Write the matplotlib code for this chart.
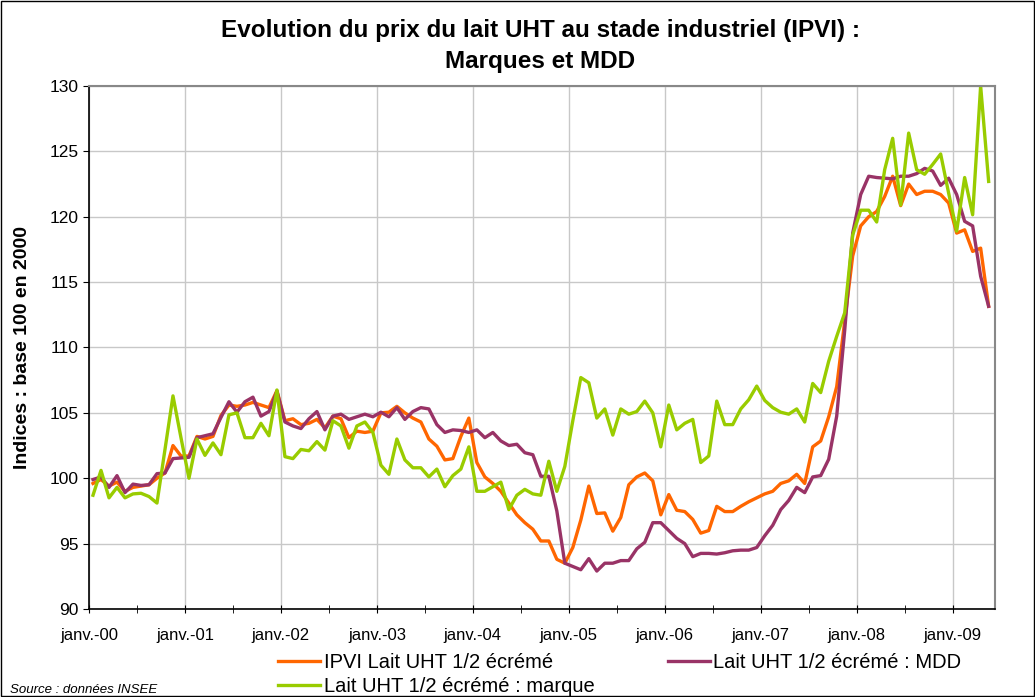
import matplotlib.pyplot as plt
import numpy as np

plt.rcParams['font.family'] = ['Liberation Sans', 'DejaVu Sans']

# Monthly indices, janv. 2000 -> mai 2009 (base 100 en 2000)
ipvi = [
    99.6, 99.9, 99.4, 99.7, 99.0, 99.3, 99.4, 99.5, 100.0, 100.4, 102.5, 101.7,
    101.7, 103.2, 103.0, 103.2, 104.8, 105.6, 105.5, 105.6, 105.8, 105.6, 105.4, 106.7,
    104.4, 104.55, 104.1, 104.2, 104.5, 103.85, 104.75, 104.55, 103.1, 103.6, 103.5, 103.6,
    105.0, 105.05, 105.5, 105.0, 104.6, 104.3, 103.0, 102.45, 101.4, 101.5, 103.2, 104.6,
    101.2, 100.1, 99.6, 99.0, 98.1, 97.2, 96.6, 96.1, 95.2, 95.2, 93.8, 93.5,
    94.7, 96.8, 99.4, 97.3, 97.35, 95.95, 97.0, 99.5, 100.1, 100.4, 99.8, 97.2,
    98.75, 97.55, 97.45, 96.85, 95.8, 96.0, 97.85, 97.45, 97.45, 97.85, 98.2, 98.5,
    98.8, 99.0, 99.6, 99.8, 100.3, 99.6, 102.4, 102.85, 104.7, 107.0, 112.0, 117.0,
    119.3, 120.0, 120.4, 121.55, 123.1, 120.85, 122.5, 121.7, 121.95, 121.95, 121.7, 121.05,
    118.75, 119.0, 117.35, 117.6, 113.15,
]
mdd = [
    99.9, 100.1, 99.3, 100.2, 98.9, 99.55, 99.45, 99.5, 100.35, 100.4, 101.5, 101.55,
    101.6, 103.1, 103.25, 103.4, 104.65, 105.85, 105.05, 105.85, 106.2, 104.75, 105.1, 106.65,
    104.3, 104.0, 103.8, 104.55, 105.1, 103.7, 104.75, 104.9, 104.5, 104.7, 104.9, 104.7,
    105.05, 104.7, 105.4, 104.5, 105.1, 105.4, 105.3, 104.1, 103.5, 103.7, 103.65, 103.5,
    103.7, 103.1, 103.5, 102.85, 102.5, 102.6, 101.95, 101.8, 100.15, 100.15, 97.5, 93.5,
    93.25, 93.0, 93.85, 92.9, 93.5, 93.5, 93.7, 93.7, 94.6, 95.1, 96.6, 96.6,
    96.0, 95.4, 95.0, 94.0, 94.25, 94.25, 94.2, 94.3, 94.45, 94.5, 94.5, 94.7,
    95.6, 96.4, 97.6, 98.3, 99.3, 98.9, 100.1, 100.2, 101.45, 104.75, 111.3, 118.75,
    121.7, 123.1, 123.0, 122.95, 122.9, 123.1, 123.1, 123.3, 123.7, 123.5, 122.4, 122.95,
    121.7, 119.65, 119.3, 115.45, 113.15,
]
marque = [
    98.7, 100.6, 98.5, 99.3, 98.5, 98.8, 98.85, 98.6, 98.1, 102.2, 106.3, 103.1,
    100.0, 103.0, 101.75, 102.7, 101.8, 104.85, 105.0, 103.1, 103.1, 104.2, 103.25, 106.75,
    101.65, 101.5, 102.2, 102.1, 102.8, 102.15, 104.4, 104.0, 102.3, 104.0, 104.3, 103.5,
    101.0, 100.3, 103.0, 101.4, 100.8, 100.8, 100.1, 100.7, 99.35, 100.2, 100.7, 102.4,
    99.0, 99.0, 99.35, 99.7, 97.6, 98.7, 99.15, 98.8, 98.7, 101.3, 99.0, 100.9,
    104.4, 107.7, 107.3, 104.6, 105.3, 103.3, 105.3, 104.9, 105.1, 105.9, 105.0, 102.4,
    105.6, 103.7, 104.2, 104.5, 101.2, 101.7, 105.9, 104.1, 104.1, 105.3, 106.0, 107.05,
    105.95, 105.4, 105.05, 104.9, 105.3, 104.3, 107.25, 106.55, 108.95, 110.85, 112.65, 118.6,
    120.5, 120.5, 119.6, 123.6, 126.0, 120.9, 126.4, 123.6, 123.25, 124.0, 124.8, 121.8,
    118.9, 123.0, 120.15, 130.0, 122.7,
]
year_labels = ['janv.-00', 'janv.-01', 'janv.-02', 'janv.-03', 'janv.-04',
               'janv.-05', 'janv.-06', 'janv.-07', 'janv.-08', 'janv.-09']

months = np.arange(len(ipvi)) + 0.5

fig = plt.figure(figsize=(10.35, 6.97), dpi=100)
ax = fig.add_axes([0.086, 0.1263, 0.875, 0.7503])

l1, = ax.plot(months, ipvi, color='#FF6600', lw=2.4, label='IPVI Lait UHT 1/2 écrémé')
l2, = ax.plot(months, mdd, color='#993366', lw=2.4, label='Lait UHT 1/2 écrémé : MDD')
l3, = ax.plot(months, marque, color='#99CC00', lw=2.4, label='Lait UHT 1/2 écrémé : marque')

ax.set_xlim(0, 113.25)
ax.set_ylim(90, 130)
ax.set_yticks(np.arange(90, 131, 5))
ax.set_xticks(np.arange(0, 109, 12))
ax.set_xticklabels(year_labels, fontsize=12)
ax.set_xticks(np.arange(6, 113, 12), minor=True)
ax.tick_params(axis='y', labelsize=12.5, direction='out', length=4)
ax.tick_params(axis='x', which='both', direction='inout', length=6, pad=11)
ax.grid(True, color='#c8c8c8', lw=1)
ax.set_axisbelow(True)

for s in ['top', 'right']:
    ax.spines[s].set_color('#888888')
    ax.spines[s].set_linewidth(1.5)
for s in ['left', 'bottom']:
    ax.spines[s].set_color('black')
    ax.spines[s].set_linewidth(1.2)

fig.text(0.522, 1 - 19 / 697,
         'Evolution du prix du lait UHT au stade industriel (IPVI) :\nMarques et MDD',
         fontsize=17.5, fontweight='bold', ha='center', va='top', linespacing=1.45)
ax.set_ylabel('Indices : base 100 en 2000', fontsize=14, fontweight='bold')
ax.yaxis.set_label_coords(-0.064, 0.5)

fig.legend([l1, l3, l2], [l1.get_label(), l3.get_label(), l2.get_label()],
           ncol=2, loc='upper left', bbox_to_anchor=(0.261, 0.074), frameon=False,
           fontsize=14.5, handlelength=2.1, columnspacing=3.65, handletextpad=0.15,
           labelspacing=0.22, borderaxespad=0)
fig.text(0.01, 0.006, 'Source : données INSEE', fontsize=9.5, style='italic')

fig.patches.append(plt.Rectangle((0.001, 0.001), 0.998, 0.998, transform=fig.transFigure,
                                 fill=False, edgecolor='black', lw=1))

fig.savefig('out.png', dpi=100)
